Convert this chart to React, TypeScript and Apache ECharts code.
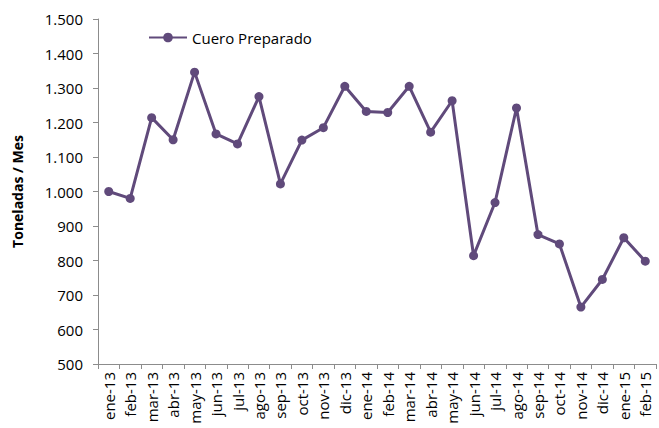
import React, { useEffect, useRef } from "react";
import * as echarts from "echarts";

const categories = [
  "ene-13", "feb-13", "mar-13", "abr-13", "may-13", "jun-13", "jul-13", "ago-13", "sep-13", "oct-13", "nov-13", "dic-13",
  "ene-14", "feb-14", "mar-14", "abr-14", "may-14", "jun-14", "jul-14", "ago-14", "sep-14", "oct-14", "nov-14", "dic-14",
  "ene-15", "feb-15",
];
const cueroPreparado = [
  1000, 980, 1214, 1150, 1346, 1167, 1138, 1275, 1022, 1149, 1185, 1305,
  1232, 1229, 1305, 1172, 1263, 814, 968, 1242, 875, 848, 665, 745,
  866, 798,
];
const seriesName = "Cuero Preparado";
const yAxisName = "Toneladas / Mes";

const fmt = (v: number) => v.toLocaleString("de-DE");

export default function App() {
  const ref = useRef<HTMLDivElement>(null);
  useEffect(() => {
    if (!ref.current) return;
    const chart = echarts.init(ref.current, null, { renderer: "svg" });
    const font = "'Open Sans', sans-serif";
    chart.setOption({
      animation: false,
      textStyle: { fontFamily: font },
      grid: { left: 98, top: 19, right: 3, bottom: 64 },
      legend: {
        data: [seriesName],
        left: 143,
        top: 25,
        itemWidth: 38,
        itemHeight: 12,
        itemGap: 2,
        textStyle: { fontFamily: font, fontSize: 15, color: "#000" },
      },
      xAxis: {
        type: "category",
        data: categories,
        boundaryGap: true,
        axisLine: { lineStyle: { color: "#8c8c8c", width: 1 } },
        axisTick: { show: true, length: 5, lineStyle: { color: "#8c8c8c" } },
        axisLabel: { rotate: 90, fontSize: 15, color: "#000", margin: 8, interval: 0, fontFamily: font },
      },
      yAxis: {
        type: "value",
        min: 500,
        max: 1500,
        interval: 100,
        name: yAxisName,
        nameLocation: "middle",
        nameGap: 74,
        nameTextStyle: { fontWeight: "bold", fontSize: 14, color: "#000", fontFamily: font },
        axisLine: { show: true, lineStyle: { color: "#8c8c8c", width: 1 } },
        axisTick: { show: true, length: 5, lineStyle: { color: "#8c8c8c" } },
        splitLine: { show: false },
        axisLabel: { fontSize: 15, color: "#000", margin: 15, formatter: (v: number) => fmt(v), fontFamily: font },
      },
      series: [
        {
          name: seriesName,
          type: "line",
          data: cueroPreparado,
          symbol: "circle",
          symbolSize: 9,
          itemStyle: { color: "#604A7B" },
          lineStyle: { color: "#604A7B", width: 3 },
        },
      ],
    });
    return () => chart.dispose();
  }, []);
  return <div ref={ref} style={{ width: 659, height: 428, position: "absolute", left: 0, top: 0 }} />;
}
